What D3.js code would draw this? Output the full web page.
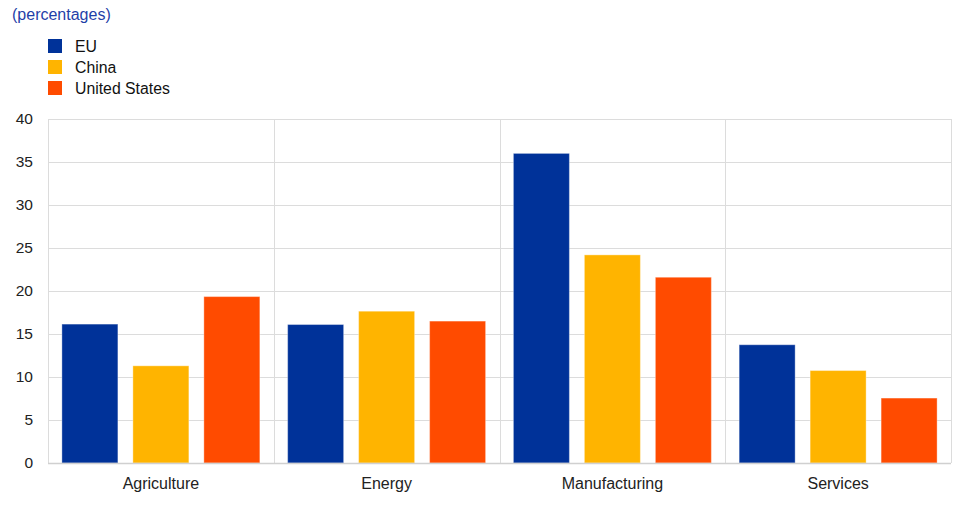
<!DOCTYPE html>
<html><head><meta charset="utf-8">
<script src="https://cdn.jsdelivr.net/npm/d3@7"></script>
<style>body{margin:0;background:#fff;}svg{display:block;font-family:"Liberation Sans",Arial,sans-serif;}</style>
</head><body><svg id="c" width="957" height="511"></svg>
<script>
const categories = ["Agriculture", "Energy", "Manufacturing", "Services"];
const seriesNames = ["EU", "China", "United States"];
const seriesColors = ["#003299", "#FFB400", "#FF4B00"];
const euValues = [16.15, 16.1, 36.0, 13.75];
const chinaValues = [11.3, 17.65, 24.2, 10.75];
const usValues = [19.35, 16.5, 21.6, 7.55];
const yTicks = [0, 5, 10, 15, 20, 25, 30, 35, 40];

const seriesValues = [euValues, chinaValues, usValues];
const svg = d3.select("#c");
const L = 48, R = 951, T = 119, B = 463;

const x = d3.scaleBand().domain(categories).range([L, R]).paddingInner(0).paddingOuter(0);
const y = d3.scaleLinear().domain([0, 40]).range([B, T]);
const bw = x.bandwidth();
const xs = d3.scaleBand().domain(seriesNames).range([13.9, bw - 13.9]).paddingInner(15/71).paddingOuter(0);

// horizontal grid
svg.append("g").selectAll("line").data(yTicks.filter(d => d > 0)).join("line")
  .attr("x1", L).attr("x2", R).attr("y1", d => y(d) + 0.5).attr("y2", d => y(d) + 0.5)
  .attr("stroke", "#dcdcdc").attr("stroke-width", 1);
// vertical separators
const seps = categories.map(c => x(c)).concat([R]);
svg.append("g").selectAll("line").data(seps).join("line")
  .attr("x1", d => Math.round(d) + 0.5).attr("x2", d => Math.round(d) + 0.5)
  .attr("y1", T).attr("y2", B)
  .attr("stroke", "#dcdcdc").attr("stroke-width", 1);

// bars
const g = svg.append("g");
categories.forEach((c, ci) => {
  seriesNames.forEach((s, si) => {
    const v = seriesValues[si][ci];
    g.append("rect")
      .attr("x", x(c) + xs(s)).attr("width", xs.bandwidth())
      .attr("y", y(v)).attr("height", y(0) - y(v))
      .attr("fill", seriesColors[si])
      .attr("stroke", "rgba(255,255,255,0.35)").attr("stroke-width", 1);
  });
});

// bottom axis line
svg.append("line").attr("x1", L).attr("x2", R).attr("y1", B + 0.5).attr("y2", B + 0.5)
  .attr("stroke", "#d0d0d0").attr("stroke-width", 1.5);

// y axis labels
const yAxis = d3.axisLeft(y).tickValues(yTicks).tickSize(0).tickPadding(0);
const ya = svg.append("g").attr("transform", `translate(33,0)`).call(yAxis);
ya.select(".domain").remove();
ya.selectAll("text").attr("font-size", 15.5).attr("fill", "#222").attr("font-family", "Liberation Sans, Arial, sans-serif");

// x axis labels
const xAxis = d3.axisBottom(x).tickSize(0).tickPadding(0);
const xa = svg.append("g").attr("transform", `translate(0,${B + 15})`).call(xAxis);
xa.select(".domain").remove();
xa.selectAll("text").attr("font-size", 16).attr("fill", "#222").attr("font-family", "Liberation Sans, Arial, sans-serif");

// subtitle
svg.append("text").attr("x", 12).attr("y", 20).attr("font-size", 16).attr("fill", "#1F3FA8")
  .text("(percentages)");

// legend
const lg = svg.append("g");
seriesNames.forEach((s, i) => {
  lg.append("rect").attr("x", 48).attr("y", 39 + i * 21).attr("width", 14).attr("height", 14)
    .attr("fill", seriesColors[i]);
  lg.append("text").attr("x", 75).attr("y", 51.5 + i * 21).attr("font-size", 15.8).attr("fill", "#111")
    .text(s);
});
</script></body></html>
